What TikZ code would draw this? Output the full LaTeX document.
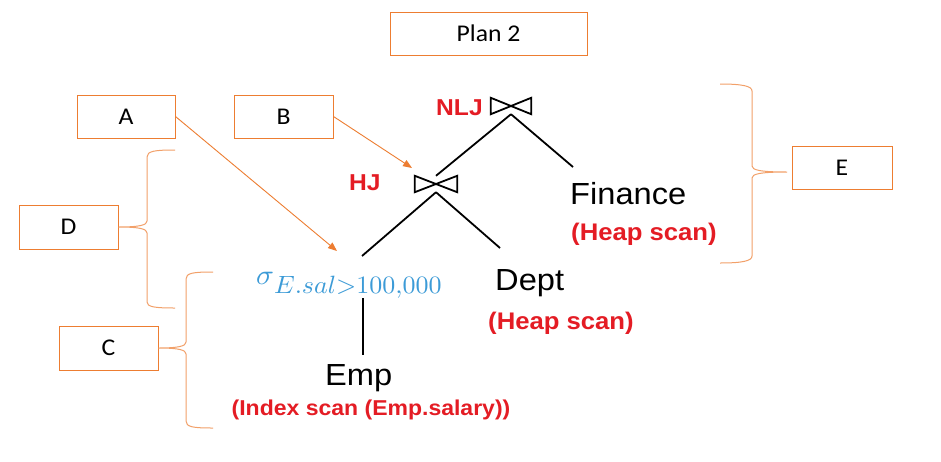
\RequirePackage{fix-cm}
\documentclass[tikz,border=0pt]{standalone}
\usepackage[no-math]{fontspec}
\setmainfont{Carlito}
\newfontfamily\arialf{Liberation Sans}
\usetikzlibrary{arrows.meta}
\definecolor{orng}{RGB}{237,125,49}
\definecolor{bracec}{RGB}{242,160,105}
\definecolor{redt}{RGB}{228,28,36}
\definecolor{bluet}{RGB}{60,155,215}
\newcommand{\hs}[1]{\scalebox{1.07}[1]{#1}}
\begin{document}
\begin{tikzpicture}[x=1pt,y=-1pt,
 lbl/.style={draw=orng, line width=1pt, minimum height=43pt, inner sep=0pt, font=\fontsize{24}{28}\selectfont},
 treetxt/.style={inner sep=0pt, anchor=base west, font=\arialf\fontsize{30.5}{34}\selectfont},
 scantxt/.style={inner sep=0pt, anchor=base west, text=redt, font=\arialf\bfseries\fontsize{24}{28}\selectfont},
 jointxt/.style={inner sep=0pt, anchor=base west, text=redt, font=\arialf\bfseries\fontsize{23}{28}\selectfont},
 edge/.style={line width=1.8pt, black},
 bowtie/.style={inner sep=0pt, minimum width=40pt, minimum height=16pt},
 ptr/.style={draw=orng, line width=0.9pt, -{Triangle[length=9pt,width=7pt]}},
 brace/.style={draw=bracec, line width=1pt},
]
\fill[white] (0,0) rectangle (941,461);
\useasboundingbox (0,0) rectangle (941,461);

% label boxes
\node[lbl, minimum width=197pt] (plan) at (488.5,33.5) {\hs{Plan 2}};
\node[lbl, minimum width=98pt] (A) at (126,116.5) {\hs{A}};
\node[lbl, minimum width=99pt] (B) at (283.5,116.5) {\hs{B}};
\node[lbl, minimum width=99pt, minimum height=44pt] (D) at (68.5,227) {\hs{D}};
\node[lbl, minimum width=99pt, minimum height=44pt] (C) at (108.5,348) {\hs{C}};
\node[lbl, minimum width=100pt] (E) at (842,167.5) {\hs{E}};

% join operators
\node[jointxt] (nljt) at (436,115) {\hs{NLJ}};
\node[bowtie] (nlj) at (511,106) {};
\draw[edge, line join=miter] (nlj.north west) -- (nlj.center) -- (nlj.south west) -- cycle;
\draw[edge, line join=miter] (nlj.north east) -- (nlj.center) -- (nlj.south east) -- cycle;

\node[jointxt] (hjt) at (349,190) {\hs{HJ}};
\node[bowtie, minimum width=42pt] (hj) at (436,184) {};
\draw[edge, line join=miter] (hj.north west) -- (hj.center) -- (hj.south west) -- cycle;
\draw[edge, line join=miter] (hj.north east) -- (hj.center) -- (hj.south east) -- cycle;

% relations
\node[treetxt] (fin) at (570,204) {\hs{Finance}};
\node[scantxt] (fins) at (571,240) {\hs{(Heap scan)}};
\node[treetxt] (dept) at (495,290) {\hs{Dept}};
\node[scantxt] (depts) at (488,329) {\hs{(Heap scan)}};
\node[treetxt] (emp) at (325,385) {\hs{Emp}};
\node[scantxt, anchor=base, font=\arialf\bfseries\fontsize{21.5}{26}\selectfont] (emps) at (371,415) {\hs{(Index scan (Emp.salary))}};

\node[inner sep=0pt, anchor=base west, text=bluet] (sel) at (256,284)
 {\scalebox{2.95}[2.85]{$\sigma$}\raisebox{-9pt}{\scalebox{2.6}[2.5]{$E.sal{>}100{,}000$}}};

% tree edges
\coordinate (finT) at (573,167);
\coordinate (selT) at (362,256);
\coordinate (deptT) at (500,248);
\coordinate (selB) at (363,298);
\coordinate (empT) at (363,355);
\draw[edge] (nlj.south) -- (hj.north);
\draw[edge] (nlj.south) -- (finT);
\draw[edge] (hj.south) -- (selT);
\draw[edge] (hj.south) -- (deptT);
\draw[line width=1.5pt] (selB) -- (empT);

% pointers
\coordinate (aT) at (337,251);
\coordinate (bT) at (412,168);
\draw[ptr] (A.east) -- (aT);
\draw[ptr] (B.east) -- (bT);

% braces
\draw[brace] (175,150) .. controls (155,150) and (147,151) .. (147,157) -- (147,221)
  .. controls (147,225) and (140,227) .. (D.east)
  .. controls (140,227) and (147,229) .. (147,233) -- (147,302)
  .. controls (147,307) and (155,308) .. (175,308);
\draw[brace] (213,272) .. controls (193,272) and (186,273) .. (186,279) -- (186,342)
  .. controls (186,346) and (179,348) .. (C.east)
  .. controls (179,348) and (186,350) .. (186,354) -- (186,421)
  .. controls (186,427) and (193,428) .. (213,428);
\coordinate (ebr) at (787,172);
\draw[brace] (720,84) .. controls (742,84) and (752,86) .. (752,91) -- (752,166)
  .. controls (752,170) and (760,172) .. (ebr)
  .. controls (760,172) and (752,174) .. (752,178) -- (752,256)
  .. controls (752,261) and (742,263) .. (720,263);
\end{tikzpicture}
\end{document}
